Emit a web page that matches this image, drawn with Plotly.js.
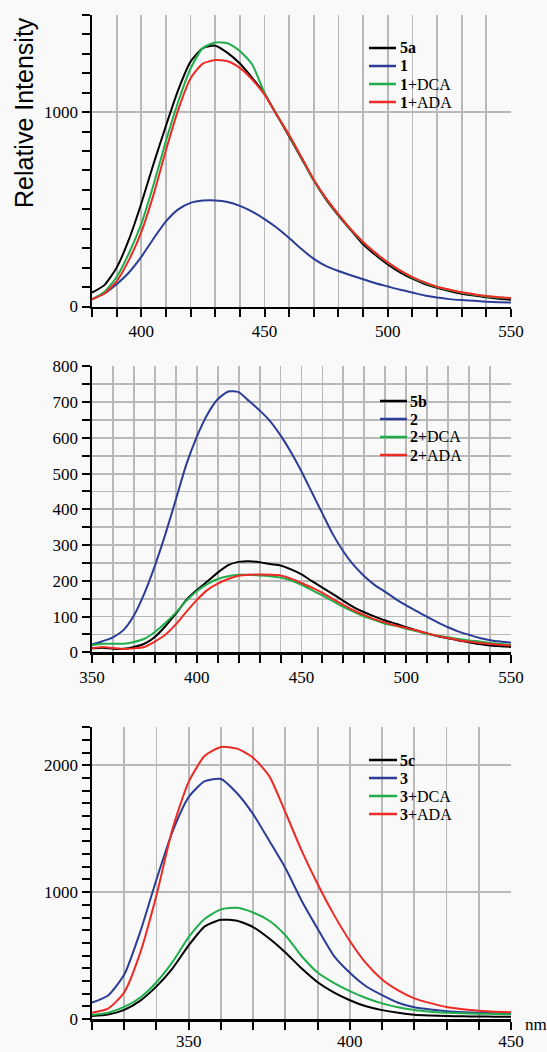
<!DOCTYPE html>
<html><head><meta charset="utf-8">
<script src="https://cdn.plot.ly/plotly-3.0.1.min.js"></script>
<style>html,body{margin:0;padding:0;background:#f9f9f9}</style>
</head><body><div id="chart" style="width:547px;height:1052px"></div>
<script>
// ---------- Panel a (top) ----------
const wlA = [380,385,390,395,400,405,410,415,420,425,430,435,440,445,450,455,460,465,470,475,480,485,490,495,500,505,510,515,520,525,530,535,540,545,550];
const a5a   = [71,110,200,345,530,735,930,1115,1260,1330,1342,1305,1250,1176,1095,985,875,762,648,550,468,393,320,265,217,176,143,116,96,80,66,56,47,40,35];
const a1    = [37,67,115,175,255,350,438,500,533,545,546,538,518,488,450,405,352,296,245,208,183,161,140,120,103,86,72,57,46,38,33,29,25,22,20];
const a1DCA = [37,74,152,274,425,628,852,1055,1225,1330,1358,1355,1315,1245,1100,985,880,765,648,553,472,397,330,274,225,184,149,122,100,85,71,61,51,46,42];
const a1ADA = [37,67,130,240,383,577,804,1013,1175,1250,1268,1262,1228,1168,1090,985,882,768,652,556,474,398,332,276,227,186,151,124,102,87,73,63,54,48,44];
const namesA = ['<b>5a</b>','<b>1</b>','<b>1</b>+DCA','<b>1</b>+ADA'];
const xTicksA = [400,450,500,550];
const yTicksA = [0,1000];

// ---------- Panel b (middle) ----------
const wlB = [350,355,360,365,370,375,380,385,390,395,400,405,410,415,420,425,430,435,440,445,450,455,460,465,470,475,480,485,490,495,500,505,510,515,520,525,530,535,540,545,550];
const b5b   = [11,13,10,10,15,24,43,73,108,146,174,198,223,244,253,255,252,247,243,232,218,199,181,163,144,126,112,100,89,80,70,61,53,45,39,33,28,23,19,17,15];
const b2    = [22,31,42,62,103,165,242,330,427,525,603,665,708,730,728,703,677,647,607,560,506,447,388,330,282,243,213,188,169,149,131,115,99,84,70,58,49,40,34,30,27];
const b2DCA = [20,24,24,24,29,38,57,82,111,144,171,191,205,213,217,217,215,213,209,201,189,174,159,143,127,113,100,90,80,74,66,59,51,46,42,37,33,30,26,23,21];
const b2ADA = [11,15,12,9,11,15,30,49,78,113,146,174,192,205,214,217,218,217,215,206,194,181,166,149,133,117,104,92,83,75,68,61,53,46,40,34,30,26,23,21,19];
const namesB = ['<b>5b</b>','<b>2</b>','<b>2</b>+DCA','<b>2</b>+ADA'];
const xTicksB = [350,400,450,500,550];
const yTicksB = [0,100,200,300,400,500,600,700,800];

// ---------- Panel c (bottom) ----------
const wlC = [320,325,330,335,340,345,350,355,360,365,370,375,380,385,390,395,400,405,410,415,420,425,430,435,440,445,450];
const c5c   = [24,35,72,145,257,400,580,730,782,775,725,635,525,400,290,210,148,100,70,49,34,28,24,21,20,18,17];
const c3    = [129,185,350,690,1100,1480,1750,1875,1893,1780,1615,1405,1190,935,712,500,364,258,188,128,92,74,62,54,49,45,42];
const c3DCA = [32,50,95,170,290,450,645,790,864,877,840,775,660,497,366,285,220,166,123,92,71,58,50,45,42,39,37];
const c3ADA = [50,82,210,525,975,1500,1870,2075,2145,2132,2060,1915,1630,1330,1065,825,615,440,312,226,163,125,94,77,66,58,53];
const namesC = ['<b>5c</b>','<b>3</b>','<b>3</b>+DCA','<b>3</b>+ADA'];
const xTicksC = [350,400,450];
const yTicksC = [0,1000,2000];

const colors = ['#000000','#2b3d96','#1fae4b','#ee2a24'];
const serif = '"Liberation Serif", "Times New Roman", Times, serif';

function mk(x, ys, names, xa, ya) {
  return ys.map((y, i) => ({
    type: 'scatter', mode: 'lines', x: x, y: y, name: names[i],
    xaxis: xa, yaxis: ya, showlegend: false,
    line: {color: colors[i], width: 2, shape: 'spline', smoothing: 0.6}
  }));
}

const data = [].concat(
  mk(wlA, [a5a, a1, a1DCA, a1ADA], namesA, 'x', 'y'),
  mk(wlB, [b5b, b2, b2DCA, b2ADA], namesB, 'x2', 'y2'),
  mk(wlC, [c5c, c3, c3DCA, c3ADA], namesC, 'x3', 'y3')
);

const gridC = '#b9b9b9', gridW = 1.8;
function axis(extra, minorDtick, minorGrid, tickvals, tick0) {
  return Object.assign({
    tickmode: 'array', tickvals: tickvals, ticktext: tickvals.map(String),
    ticks: 'outside', ticklen: 8, tickwidth: 2, tickcolor: '#000',
    showline: true, linewidth: 2.5, linecolor: '#000', mirror: false,
    showgrid: true, gridcolor: gridC, gridwidth: gridW, zeroline: false,
    tickfont: {family: serif, size: 17, color: '#000'},
    minor: {tickmode: 'linear', tick0: tick0, dtick: minorDtick, ticks: 'outside', ticklen: 8, tickwidth: 2, tickcolor: '#000',
            showgrid: minorGrid, gridcolor: gridC, gridwidth: gridW},
    fixedrange: true
  }, extra);
}

// plot-area geometry (pixels) used to place the hand-built legends
const L = 92, R = 36, T = 15, B = 33, W = 547, H = 1052;
const pw = W - L - R, ph = H - T - B;
const px2x = p => (p - L) / pw;
const py2y = p => (H - B - p) / ph;

// legend placement: line start/end, text start, first row y, row step (pixels)
const legendPos = [
  {names: namesA, x0: 369, x1: 396, tx: 399, y0: 48, dy: 18},
  {names: namesB, x0: 380, x1: 407, tx: 409, y0: 401, dy: 18},
  {names: namesC, x0: 369, x1: 397, tx: 399, y0: 760, dy: 18}
];
const shapes = [], annotations = [];
legendPos.forEach(lg => {
  lg.names.forEach((nm, i) => {
    const yy = py2y(lg.y0 + i * lg.dy);
    shapes.push({type: 'line', xref: 'paper', yref: 'paper', x0: px2x(lg.x0), x1: px2x(lg.x1), y0: yy, y1: yy,
                 line: {color: colors[i], width: 2.5}});
    annotations.push({text: nm, xref: 'paper', yref: 'paper', x: px2x(lg.tx), y: yy, xanchor: 'left', yanchor: 'middle',
                      showarrow: false, borderpad: 0, font: {family: serif, size: 16, color: '#000'}});
  });
});
annotations.push(
  {text: 'Relative Intensity', xref: 'paper', yref: 'paper', x: px2x(24), y: py2y(113),
   xanchor: 'center', yanchor: 'middle', textangle: -90, showarrow: false,
   font: {family: '"Liberation Sans", Arial, sans-serif', size: 25, color: '#000'}},
  {text: 'nm', xref: 'paper', yref: 'paper', x: px2x(523), y: py2y(1024),
   xanchor: 'left', yanchor: 'middle', showarrow: false,
   font: {family: serif, size: 17, color: '#000'}}
);

const dA = [py2y(306.5), py2y(15)], dB = [py2y(652.3), py2y(366.4)], dC = [py2y(1019), py2y(727.3)];

const layout = {
  width: W, height: H,
  margin: {l: L, r: R, t: T, b: B},
  paper_bgcolor: '#f9f9f9', plot_bgcolor: '#f9f9f9',
  showlegend: false,
  xaxis:  axis({anchor: 'y',  domain: [0,1], range: [380,550]}, 10, true, xTicksA, 380),
  yaxis:  axis({anchor: 'x',  domain: dA, range: [0,1500]}, 100, false, yTicksA, 0),
  xaxis2: axis({anchor: 'y2', domain: [0,1], range: [350,550]}, 10, true, xTicksB, 350),
  yaxis2: axis({anchor: 'x2', domain: dB, range: [0,800]}, 50, true, yTicksB, 0),
  xaxis3: axis({anchor: 'y3', domain: [0,1], range: [320,450], ticklabelstandoff: -3}, 10, true, xTicksC, 320),
  yaxis3: axis({anchor: 'x3', domain: dC, range: [0,2300]}, 100, false, yTicksC, 0),
  shapes: shapes,
  annotations: annotations
};

Plotly.newPlot('chart', data, layout, {displayModeBar: false, staticPlot: true});
</script></body></html>
